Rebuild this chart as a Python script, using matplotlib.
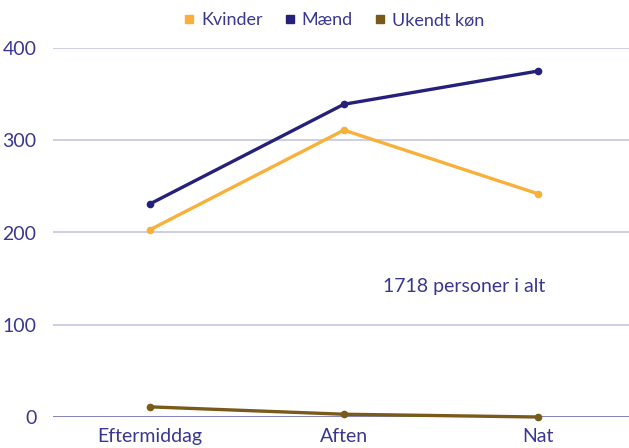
import matplotlib
matplotlib.use("Agg")
import matplotlib.pyplot as plt
from matplotlib.lines import Line2D

categories = ["Eftermiddag", "Aften", "Nat"]
kvinder = [203, 311, 242]
maend = [231, 339, 375]
ukendt = [11, 3, 0]
series_names = ["Kvinder", "Mænd", "Ukendt køn"]
colors = ["#f9b03a", "#25217a", "#7a5a1a"]
yticks = [0, 100, 200, 300, 400]

text_color = "#3a3790"
plt.rcParams["font.family"] = ["Lato", "DejaVu Sans"]

fig = plt.figure(figsize=(6.29, 4.48), dpi=100)
ax = fig.add_axes([53 / 629, 31 / 448, 1 - 53 / 629, (417 - 48) / 448])

x = list(range(len(categories)))
for vals, c in zip([kvinder, maend, ukendt], colors):
    ax.plot(x, vals, color=c, lw=2.4, marker="o", ms=4.5, clip_on=False, zorder=3)

ax.set_xlim(-0.5, 2.47)
ax.set_ylim(0, 400)
ax.set_yticks(yticks)
ax.set_xticks(x)
ax.set_xticklabels(categories)
for y in yticks[1:]:
    ax.axhline(y, color="#c6c6de", lw=1.2, zorder=1)
ax.axhline(0, color="#6e6caa", lw=1.2, zorder=2)

for s in ax.spines.values():
    s.set_visible(False)
ax.tick_params(length=0, colors=text_color, labelsize=14)
ax.tick_params(axis="y", pad=12)
ax.tick_params(axis="x", pad=8)

ax.text(1.62, 141, "1718 personer i alt", color=text_color, fontsize=14,
        ha="center", va="center")

handles = [Line2D([], [], color=c, marker="s", ls="none", ms=5.5) for c in colors]
leg = fig.legend(handles, series_names, loc="center", bbox_to_anchor=(0.528, 0.955),
                 ncol=3, frameon=False, fontsize=13, handletextpad=0.15,
                 columnspacing=1.0, handlelength=1.0)
for t in leg.get_texts():
    t.set_color(text_color)

fig.savefig("out.png", dpi=100)
